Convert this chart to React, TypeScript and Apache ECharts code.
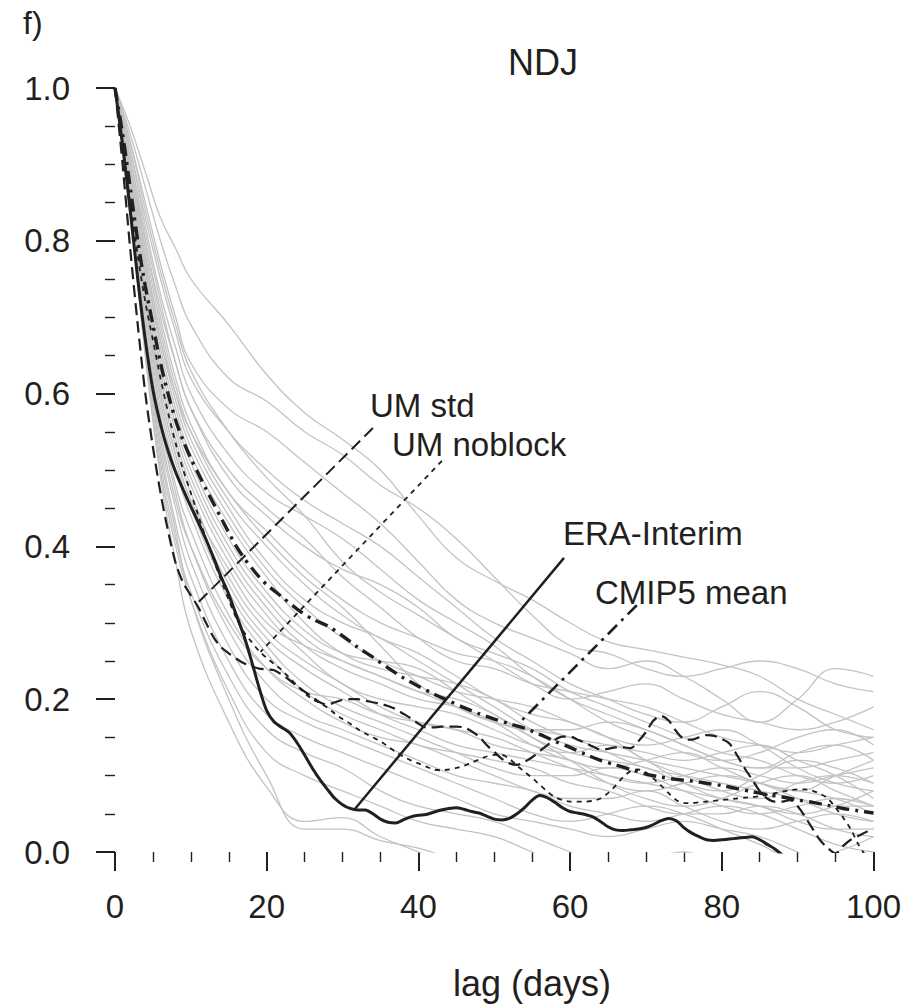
import React, { useEffect, useRef } from "react";
import * as echarts from "echarts";

// ---- DATA ----
const X_TICKS = [0, 20, 40, 60, 80, 100];
const Y_TICKS = [0.0, 0.2, 0.4, 0.6, 0.8, 1.0];

// daily lags 0..100 for the highlighted curves
const LAGS = Array.from({ length: 101 }, (_, i) => i);

const ERA_INTERIM = [
  1.0, 0.925, 0.84, 0.75, 0.67, 0.605, 0.56, 0.525, 0.497, 0.474,
  0.452, 0.431, 0.409, 0.385, 0.36, 0.337, 0.31, 0.283, 0.25, 0.215,
  0.185, 0.17, 0.163, 0.156, 0.143, 0.127, 0.11, 0.095, 0.082, 0.07,
  0.062, 0.057, 0.055, 0.055, 0.05, 0.043, 0.039, 0.038, 0.042, 0.046,
  0.048, 0.049, 0.052, 0.055, 0.057, 0.058, 0.056, 0.053, 0.051, 0.047,
  0.043, 0.042, 0.044, 0.05, 0.058, 0.068, 0.074, 0.071, 0.065, 0.058,
  0.053, 0.051, 0.049, 0.046, 0.04, 0.033, 0.029, 0.028, 0.029, 0.03,
  0.032, 0.036, 0.041, 0.044, 0.041, 0.032, 0.025, 0.02, 0.016, 0.015,
  0.016, 0.017, 0.018, 0.019, 0.02, 0.016, 0.01, 0.004, -0.004, -0.01,
  -0.015, -0.02, -0.02, -0.02, -0.02, -0.02, -0.02, -0.02, -0.02, -0.02,
  -0.02,
];

const UM_STD = [
  1.0, 0.9, 0.79, 0.69, 0.6, 0.53, 0.47, 0.42, 0.378, 0.352,
  0.336, 0.32, 0.3, 0.281, 0.268, 0.26, 0.253, 0.247, 0.243, 0.24,
  0.239, 0.238, 0.232, 0.225, 0.217, 0.21, 0.203, 0.196, 0.193, 0.196,
  0.199, 0.2, 0.2, 0.198, 0.196, 0.194, 0.191, 0.187, 0.181, 0.175,
  0.168, 0.163, 0.163, 0.164, 0.164, 0.164, 0.163, 0.158, 0.151, 0.14,
  0.131, 0.122, 0.116, 0.114, 0.118, 0.124, 0.132, 0.14, 0.147, 0.151,
  0.151, 0.147, 0.143, 0.138, 0.134, 0.135, 0.137, 0.137, 0.136, 0.145,
  0.157, 0.172, 0.178, 0.172, 0.158, 0.148, 0.147, 0.15, 0.153, 0.152,
  0.148, 0.142, 0.127, 0.11, 0.095, 0.08, 0.07, 0.066, 0.066, 0.068,
  0.06, 0.046, 0.03, 0.015, 0.005, -0.002, 0.008, 0.016, 0.021, 0.026,
  0.031,
];

const UM_NOBLOCK = [
  1.0, 0.93, 0.85, 0.78, 0.72, 0.67, 0.62, 0.575, 0.535, 0.5,
  0.47, 0.44, 0.41, 0.383, 0.355, 0.33, 0.306, 0.288, 0.275, 0.263,
  0.254, 0.246, 0.238, 0.228, 0.218, 0.208, 0.2, 0.195, 0.189, 0.181,
  0.174, 0.168, 0.161, 0.155, 0.15, 0.145, 0.138, 0.131, 0.125, 0.12,
  0.116, 0.112, 0.108, 0.107, 0.108, 0.11, 0.113, 0.117, 0.121, 0.125,
  0.127, 0.127, 0.122, 0.113, 0.105, 0.097, 0.088, 0.079, 0.072, 0.068,
  0.066, 0.066, 0.066, 0.067, 0.07, 0.077, 0.087, 0.098, 0.106, 0.108,
  0.104, 0.096, 0.087, 0.077, 0.068, 0.064, 0.064, 0.065, 0.066, 0.067,
  0.068, 0.069, 0.07, 0.071, 0.072, 0.073, 0.075, 0.077, 0.079, 0.081,
  0.082, 0.082, 0.08, 0.076, 0.07, 0.058, 0.045, 0.03, 0.01, -0.005,
  -0.015,
];

const CMIP5_LAGS = [
  0, 1, 2, 3, 4, 5, 6, 7, 8, 9, 10, 11, 12, 13, 14, 15, 16, 17, 18, 19, 20,
  22, 24, 26, 28, 30, 32, 34, 36, 38, 40, 42, 44, 46, 48, 50, 52, 54, 56, 58,
  60, 62, 64, 66, 68, 70, 72, 74, 76, 78, 80, 82, 84, 86, 88, 90, 92, 94, 96,
  98, 100,
];
const CMIP5_MEAN = [
  1.0, 0.94, 0.87, 0.8, 0.74, 0.69, 0.64, 0.6, 0.565, 0.538, 0.515, 0.495,
  0.475, 0.456, 0.437, 0.418, 0.4, 0.385, 0.372, 0.36, 0.35,
  0.334, 0.318, 0.305, 0.296, 0.283, 0.268, 0.255, 0.241, 0.228, 0.217,
  0.207, 0.198, 0.189, 0.181, 0.174, 0.168, 0.162, 0.154, 0.145, 0.137,
  0.128, 0.12, 0.114, 0.108, 0.102, 0.098, 0.095, 0.093, 0.09, 0.087,
  0.083, 0.079, 0.075, 0.072, 0.068, 0.065, 0.061, 0.057, 0.054, 0.051,
];

// individual CMIP5 models (grey)
const GRAY_LAGS = [0, 2, 4, 6, 8, 10, 15, 20, 25, 30, 35, 40, 45, 50, 55, 60, 65, 70, 75, 80, 85, 90, 95, 100];
const GRAY_CURVES = [
  [1, 0.95, 0.89, 0.83, 0.79, 0.75, 0.69, 0.625, 0.575, 0.54, 0.5, 0.44, 0.385, 0.355, 0.33, 0.3, 0.275, 0.265, 0.255, 0.245, 0.23, 0.2, 0.18, 0.16],
  [1, 0.94, 0.87, 0.8, 0.74, 0.69, 0.62, 0.59, 0.55, 0.52, 0.48, 0.45, 0.41, 0.36, 0.31, 0.27, 0.26, 0.24, 0.23, 0.24, 0.25, 0.24, 0.22, 0.21],
  [1, 0.93, 0.85, 0.77, 0.7, 0.64, 0.58, 0.55, 0.51, 0.47, 0.43, 0.38, 0.33, 0.3, 0.28, 0.26, 0.24, 0.25, 0.23, 0.2, 0.17, 0.2, 0.24, 0.23],
  [1, 0.92, 0.83, 0.75, 0.68, 0.62, 0.55, 0.5, 0.46, 0.43, 0.4, 0.36, 0.32, 0.28, 0.25, 0.22, 0.2, 0.18, 0.17, 0.19, 0.21, 0.19, 0.16, 0.15],
  [1, 0.92, 0.82, 0.73, 0.66, 0.6, 0.52, 0.47, 0.44, 0.41, 0.37, 0.33, 0.3, 0.27, 0.23, 0.2, 0.18, 0.16, 0.14, 0.12, 0.11, 0.13, 0.14, 0.12],
  [1, 0.91, 0.81, 0.72, 0.64, 0.58, 0.49, 0.44, 0.4, 0.37, 0.35, 0.32, 0.28, 0.26, 0.24, 0.21, 0.19, 0.17, 0.15, 0.13, 0.12, 0.1, 0.09, 0.1],
  [1, 0.91, 0.8, 0.7, 0.62, 0.56, 0.47, 0.42, 0.37, 0.33, 0.3, 0.28, 0.26, 0.25, 0.23, 0.2, 0.17, 0.15, 0.13, 0.12, 0.13, 0.15, 0.16, 0.14],
  [1, 0.9, 0.79, 0.69, 0.61, 0.55, 0.46, 0.4, 0.35, 0.31, 0.28, 0.26, 0.23, 0.2, 0.18, 0.17, 0.15, 0.14, 0.15, 0.16, 0.14, 0.11, 0.09, 0.08],
  [1, 0.9, 0.78, 0.68, 0.6, 0.54, 0.45, 0.38, 0.33, 0.3, 0.28, 0.25, 0.22, 0.19, 0.16, 0.14, 0.13, 0.12, 0.11, 0.1, 0.09, 0.08, 0.1, 0.12],
  [1, 0.9, 0.78, 0.67, 0.59, 0.53, 0.44, 0.37, 0.32, 0.28, 0.25, 0.23, 0.21, 0.2, 0.19, 0.17, 0.15, 0.12, 0.1, 0.08, 0.07, 0.09, 0.1, 0.09],
  [1, 0.89, 0.77, 0.66, 0.58, 0.52, 0.43, 0.36, 0.3, 0.26, 0.24, 0.23, 0.22, 0.2, 0.17, 0.15, 0.14, 0.13, 0.12, 0.13, 0.14, 0.12, 0.1, 0.07],
  [1, 0.89, 0.76, 0.65, 0.57, 0.51, 0.41, 0.34, 0.29, 0.26, 0.25, 0.24, 0.21, 0.18, 0.15, 0.13, 0.12, 0.11, 0.09, 0.08, 0.1, 0.12, 0.11, 0.09],
  [1, 0.89, 0.76, 0.64, 0.56, 0.5, 0.4, 0.33, 0.28, 0.25, 0.23, 0.21, 0.19, 0.17, 0.16, 0.15, 0.13, 0.11, 0.1, 0.09, 0.08, 0.07, 0.06, 0.06],
  [1, 0.88, 0.75, 0.63, 0.55, 0.49, 0.39, 0.32, 0.27, 0.24, 0.22, 0.2, 0.19, 0.17, 0.14, 0.12, 0.11, 0.12, 0.13, 0.11, 0.09, 0.08, 0.07, 0.05],
  [1, 0.88, 0.74, 0.62, 0.54, 0.48, 0.38, 0.31, 0.26, 0.22, 0.2, 0.19, 0.18, 0.16, 0.14, 0.13, 0.14, 0.12, 0.09, 0.07, 0.06, 0.05, 0.06, 0.08],
  [1, 0.88, 0.73, 0.61, 0.53, 0.47, 0.36, 0.29, 0.25, 0.22, 0.19, 0.17, 0.16, 0.15, 0.13, 0.11, 0.09, 0.08, 0.09, 0.1, 0.09, 0.07, 0.05, 0.04],
  [1, 0.87, 0.73, 0.6, 0.52, 0.46, 0.35, 0.28, 0.24, 0.21, 0.18, 0.16, 0.14, 0.13, 0.12, 0.11, 0.1, 0.09, 0.08, 0.07, 0.06, 0.04, 0.03, 0.03],
  [1, 0.87, 0.72, 0.59, 0.51, 0.45, 0.34, 0.27, 0.22, 0.19, 0.17, 0.15, 0.13, 0.11, 0.1, 0.1, 0.11, 0.1, 0.08, 0.06, 0.05, 0.06, 0.07, 0.06],
  [1, 0.87, 0.71, 0.58, 0.5, 0.44, 0.33, 0.26, 0.21, 0.18, 0.16, 0.14, 0.13, 0.12, 0.11, 0.09, 0.08, 0.06, 0.05, 0.05, 0.06, 0.05, 0.03, 0.02],
  [1, 0.86, 0.7, 0.57, 0.48, 0.42, 0.31, 0.24, 0.2, 0.17, 0.15, 0.14, 0.12, 0.1, 0.08, 0.07, 0.07, 0.08, 0.06, 0.04, 0.03, 0.04, 0.05, 0.04],
  [1, 0.86, 0.69, 0.56, 0.47, 0.4, 0.29, 0.22, 0.18, 0.16, 0.14, 0.12, 0.1, 0.09, 0.08, 0.06, 0.05, 0.04, 0.05, 0.06, 0.05, 0.03, 0.01, 0.0],
  [1, 0.85, 0.68, 0.54, 0.45, 0.38, 0.27, 0.2, 0.17, 0.15, 0.13, 0.11, 0.09, 0.07, 0.05, 0.04, 0.05, 0.06, 0.05, 0.03, 0.01, -0.01, 0.0, 0.02],
  [1, 0.85, 0.67, 0.53, 0.43, 0.36, 0.25, 0.18, 0.15, 0.13, 0.11, 0.09, 0.07, 0.05, 0.04, 0.03, 0.02, 0.03, 0.04, 0.03, 0.02, 0.0, -0.02, -0.01],
  [1, 0.84, 0.66, 0.51, 0.41, 0.34, 0.23, 0.16, 0.13, 0.11, 0.08, 0.06, 0.05, 0.04, 0.02, 0.0, -0.02, -0.01, 0.0, -0.02, -0.03, -0.02, -0.02, -0.03],
  [1, 0.84, 0.65, 0.5, 0.4, 0.33, 0.21, 0.13, 0.1, 0.08, 0.06, 0.04, 0.03, 0.02, 0.0, -0.02, -0.03, -0.02, -0.03, -0.04, -0.03, -0.04, -0.05, -0.05],
  [1, 0.84, 0.65, 0.49, 0.38, 0.29, 0.17, 0.085, 0.04, 0.045, 0.02, 0.0, -0.02, -0.03, -0.03, -0.04, -0.04, -0.05, -0.05, -0.05, -0.05, -0.05, -0.05, -0.05],
  [1, 0.85, 0.67, 0.52, 0.42, 0.33, 0.2, 0.1, 0.03, 0.03, 0.015, 0.005, -0.01, -0.02, -0.02, -0.03, -0.03, -0.03, -0.04, -0.04, -0.04, -0.04, -0.04, -0.04],
  [1, 0.85, 0.68, 0.55, 0.46, 0.4, 0.3, 0.24, 0.21, 0.2, 0.18, 0.17, 0.16, 0.14, 0.13, 0.12, 0.1, 0.09, 0.1, 0.11, 0.1, 0.09, 0.1, 0.11],
  [1, 0.9, 0.8, 0.71, 0.64, 0.58, 0.5, 0.45, 0.41, 0.36, 0.32, 0.28, 0.25, 0.24, 0.22, 0.21, 0.2, 0.19, 0.17, 0.15, 0.14, 0.13, 0.14, 0.15],
  [1, 0.93, 0.84, 0.76, 0.69, 0.63, 0.55, 0.49, 0.44, 0.38, 0.34, 0.31, 0.28, 0.25, 0.22, 0.2, 0.21, 0.22, 0.2, 0.18, 0.17, 0.16, 0.17, 0.19],
  [1, 0.89, 0.77, 0.67, 0.6, 0.55, 0.47, 0.41, 0.36, 0.32, 0.27, 0.22, 0.19, 0.17, 0.16, 0.16, 0.17, 0.16, 0.14, 0.12, 0.11, 0.11, 0.12, 0.13],
  [1, 0.87, 0.72, 0.6, 0.52, 0.46, 0.37, 0.3, 0.27, 0.25, 0.23, 0.21, 0.2, 0.18, 0.15, 0.12, 0.09, 0.07, 0.06, 0.07, 0.09, 0.1, 0.08, 0.06],
];

// leader lines from labels to curves, in data units [lag, value]
const LEADER_UM_STD = [[34.0, 0.555], [10.9, 0.326]];
const LEADER_UM_NOBLOCK = [[43.1, 0.512], [19.2, 0.262]];
const LEADER_ERA = [[59.2, 0.385], [31.6, 0.056]];
const LEADER_CMIP5 = [[68.8, 0.323], [53.3, 0.169]];

const LABELS = ["UM std", "UM noblock", "ERA-Interim", "CMIP5 mean"];

export default function App() {
  const ref = useRef<HTMLDivElement>(null);

  useEffect(() => {
    if (!ref.current) return;
    const chart = echarts.init(ref.current, null, { renderer: "svg" });
    const FONT = "'Liberation Sans', Arial, Helvetica, sans-serif";
    const INK = "#231f20";

    const series: any[] = [];
    GRAY_CURVES.forEach((c, i) => {
      series.push({
        type: "line",
        name: "model " + (i + 1),
        data: GRAY_LAGS.map((l, j) => [l, c[j]]),
        smooth: 0.45,
        symbol: "none",
        silent: true,
        lineStyle: { color: "#c3c3c3", width: 1.3 },
        z: 1,
      });
    });

    series.push({
      type: "line",
      name: "UM noblock",
      data: LAGS.map((l, i) => [l, UM_NOBLOCK[i]]),
      smooth: 0.3,
      symbol: "none",
      lineStyle: { color: INK, width: 1.8, type: [5, 5] },
      z: 3,
    });
    series.push({
      type: "line",
      name: "UM std",
      data: LAGS.map((l, i) => [l, UM_STD[i]]),
      smooth: 0.3,
      symbol: "none",
      lineStyle: { color: INK, width: 2.2, type: [12, 6] },
      z: 3,
    });
    series.push({
      type: "line",
      name: "CMIP5 mean",
      data: CMIP5_LAGS.map((l, i) => [l, CMIP5_MEAN[i]]),
      smooth: 0.3,
      symbol: "none",
      lineStyle: { color: INK, width: 3.4, type: [13, 6, 3, 6] },
      z: 4,
    });
    series.push({
      type: "line",
      name: "ERA-Interim",
      data: LAGS.map((l, i) => [l, ERA_INTERIM[i]]),
      smooth: 0.3,
      symbol: "none",
      lineStyle: { color: INK, width: 3, type: "solid" },
      z: 5,
    });

    const leader = (name: string, pts: number[][], width: number, type: any) => ({
      type: "line",
      name,
      data: pts,
      symbol: "none",
      silent: true,
      lineStyle: { color: INK, width, type },
      z: 6,
    });
    series.push(leader("UM std leader", LEADER_UM_STD, 2, [12, 6]));
    series.push(leader("UM noblock leader", LEADER_UM_NOBLOCK, 1.8, [5, 5]));
    series.push(leader("ERA leader", LEADER_ERA, 2.5, "solid"));
    series.push(leader("CMIP5 leader", LEADER_CMIP5, 2.6, [13, 6, 3, 6]));

    const text = (t: string, x: number, y: number, size: number, align = "left") => ({
      type: "text",
      x,
      y,
      silent: true,
      style: {
        text: t,
        fill: INK,
        fontSize: size,
        fontFamily: FONT,
        textAlign: align,
        textVerticalAlign: "middle",
        align,
        verticalAlign: "middle",
      },
    });

    chart.setOption({
      animation: false,
      backgroundColor: "#ffffff",
      grid: { left: 115, right: 29, top: 88, bottom: 156, containLabel: false },
      xAxis: {
        type: "value",
        min: 0,
        max: 100,
        interval: 20,
        axisLine: { show: false },
        axisTick: { show: true, length: 19, lineStyle: { color: INK, width: 2 } },
        minorTick: { show: true, splitNumber: 4, length: 10, lineStyle: { color: INK, width: 1.4 } },
        splitLine: { show: false },
        minorSplitLine: { show: false },
        axisLabel: {
          color: INK,
          fontSize: 33,
          fontFamily: FONT,
          margin: 38,
          formatter: (v: number) => (X_TICKS.includes(v) ? String(v) : ""),
        },
      },
      yAxis: {
        type: "value",
        min: 0,
        max: 1,
        interval: 0.2,
        axisLine: { show: false },
        axisTick: { show: true, length: 19, lineStyle: { color: INK, width: 2 } },
        minorTick: { show: true, splitNumber: 4, length: 10, lineStyle: { color: INK, width: 1.4 } },
        splitLine: { show: false },
        minorSplitLine: { show: false },
        axisLabel: {
          color: INK,
          fontSize: 33,
          fontFamily: FONT,
          margin: 45,
          formatter: (v: number) => {
            const t = Y_TICKS.find((y) => Math.abs(y - v) < 1e-9);
            return t === undefined ? "" : t.toFixed(1);
          },
        },
      },
      graphic: [
        text("f)", 23, 23, 32),
        text("NDJ", 508, 62, 36),
        text(LABELS[0], 370, 405, 33),
        text(LABELS[1], 392, 444, 33),
        text(LABELS[2], 563, 533, 33),
        text(LABELS[3], 595, 592, 33),
        text("lag (days)", 532, 983, 36, "center"),
      ],
      series,
    });

    return () => chart.dispose();
  }, []);

  return (
    <div
      ref={ref}
      style={{ position: "fixed", left: 0, top: 0, width: 904, height: 1008, background: "#fff" }}
    />
  );
}
